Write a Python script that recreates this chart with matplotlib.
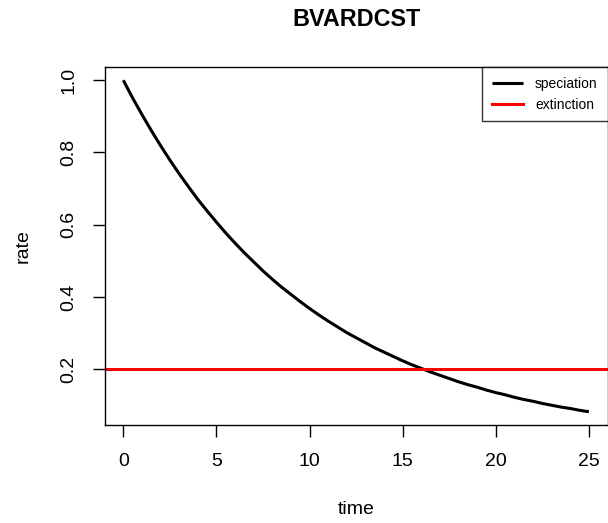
import matplotlib
matplotlib.use("Agg")
import matplotlib.pyplot as plt

time = [0, 0.5, 1, 1.5, 2, 2.5, 3, 3.5, 4, 4.5, 5, 5.5, 6, 6.5, 7, 7.5, 8, 8.5, 9, 9.5,
        10, 10.5, 11, 11.5, 12, 12.5, 13, 13.5, 14, 14.5, 15, 15.5, 16, 16.5, 17, 17.5,
        18, 18.5, 19, 19.5, 20, 20.5, 21, 21.5, 22, 22.5, 23, 23.5, 24, 24.5, 25]
speciation = [1.0, 0.951, 0.905, 0.861, 0.819, 0.779, 0.741, 0.705, 0.670, 0.638,
              0.607, 0.577, 0.549, 0.522, 0.497, 0.472, 0.449, 0.427, 0.407, 0.387,
              0.368, 0.350, 0.333, 0.317, 0.301, 0.287, 0.273, 0.259, 0.247, 0.235,
              0.223, 0.212, 0.202, 0.192, 0.183, 0.174, 0.165, 0.157, 0.150, 0.142,
              0.135, 0.129, 0.122, 0.116, 0.111, 0.105, 0.100, 0.095, 0.091, 0.086, 0.082]
extinction = 0.2
title = "BVARDCST"
xticks = [0, 5, 10, 15, 20, 25]
yticks = [0.2, 0.4, 0.6, 0.8, 1.0]

plt.rcParams['font.family'] = ['Liberation Sans', 'DejaVu Sans']
fig = plt.figure(figsize=(6.08, 5.23), dpi=100)
W, H = 608, 523
L, R, T, B = 104.7, 607.5, 67, 425
ax = fig.add_axes([L / W, 1 - B / H, (R - L) / W, (B - T) / H])

ax.plot(time, speciation, color='black', lw=2.2, solid_capstyle='butt', label='speciation')
ax.axhline(extinction, color='red', lw=2.2, label='extinction')

ymin, ymax = min(speciation), max(speciation)
pad = 0.04 * (ymax - ymin)
ax.set_ylim(ymin - pad, ymax + pad)
ax.set_xlim(-1, 26)

ax.set_xticks(xticks)
ax.set_xticklabels([str(t) for t in xticks], fontsize=14)
ax.set_yticks(yticks)
ax.set_yticklabels([f"{t:.1f}" for t in yticks], fontsize=14, rotation=90, va='center')
ax.tick_params(axis='x', direction='out', length=8.5, width=1, pad=12)
ax.tick_params(axis='y', direction='out', length=8.5, width=1, pad=11)

for s in ax.spines.values():
    s.set_linewidth(1)

fig.text((L + R) / 2 / W, 1 - 510 / H, "time", ha='center', va='center', fontsize=14)
fig.text(23 / W, 1 - (T + B) / 2 / H, "rate", ha='center', va='center', fontsize=14,
         rotation=90)
fig.text((L + R) / 2 / W, 1 - 19 / H, title, ha='center', va='center',
         fontsize=16.8, fontweight='bold')

leg = ax.legend(loc='upper right', fontsize=10, frameon=True, fancybox=False,
                edgecolor='black', borderaxespad=0, handlelength=2.2, borderpad=0.7,
                labelspacing=0.5, handletextpad=0.9, borderaxespad_=None) if False else \
      ax.legend(loc='upper right', fontsize=10, frameon=True, fancybox=False,
                edgecolor='black', borderaxespad=0, handlelength=2.2, borderpad=0.7,
                labelspacing=0.5, handletextpad=0.9)
leg.get_frame().set_linewidth(1)

fig.savefig("out.png", dpi=100)
